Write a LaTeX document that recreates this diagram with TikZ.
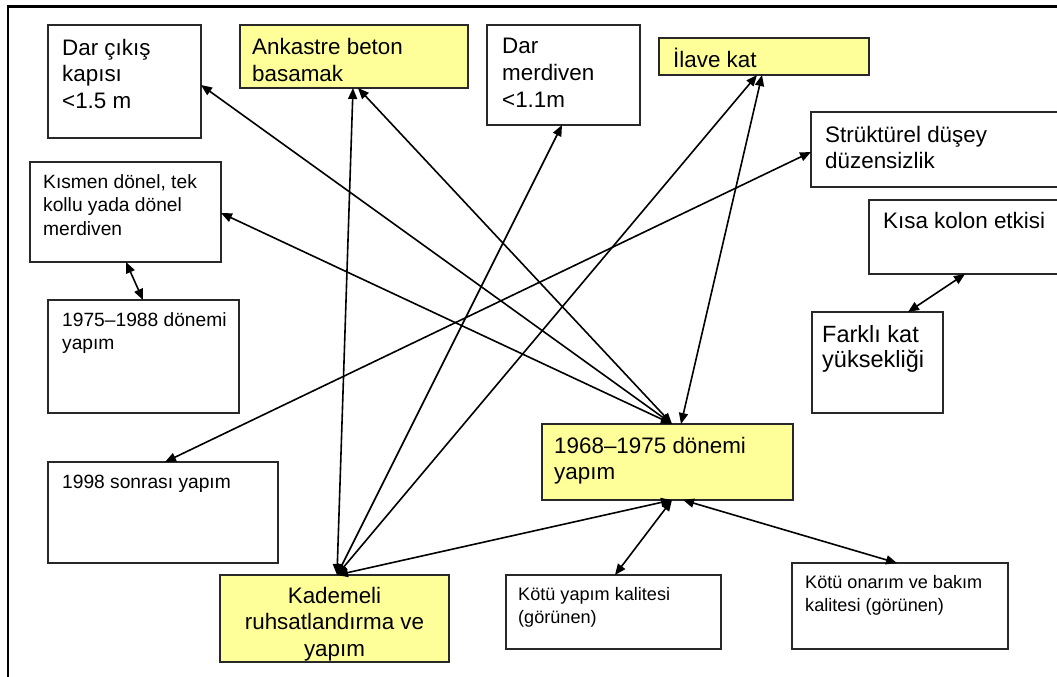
\documentclass[tikz,border=0pt]{standalone}
\usepackage{fontspec}
\setmainfont{Liberation Sans}
\usetikzlibrary{arrows.meta,calc}
\definecolor{hl}{RGB}{255,255,153}
\definecolor{edge}{RGB}{40,40,40}
\begin{document}
\begin{tikzpicture}[x=1pt,y=-1pt,
  box/.style={draw=edge, line width=1.1pt, rectangle, inner sep=0pt, outer sep=0pt, anchor=north west},
  ybox/.style={box, fill=hl},
  txt/.style={anchor=base west, align=left, inner sep=0pt},
  big/.style={font=\fontsize{22.4}{26.8}\selectfont},
  small/.style={font=\fontsize{19.2}{23.5}\selectfont},
  tiny/.style={font=\fontsize{18.1}{23.5}\selectfont},
  link/.style={line width=1.6pt, {Triangle[length=11pt,width=9pt]}-{Triangle[length=11pt,width=9pt]}}
]
\useasboundingbox (0,0) rectangle (1057,677);
\clip (0,0) rectangle (1057,677);
% frame
\draw[line width=2.6pt] (8,700) -- (8,6.5) -- (1080,6.5);

% boxes
\node[box, minimum width=153pt, minimum height=113pt] (n1) at (48,25) {};
\node[ybox, minimum width=228pt, minimum height=63pt] (n2) at (240,25) {};
\node[box, minimum width=153pt, minimum height=100pt] (n3) at (487,25) {};
\node[ybox, minimum width=210pt, minimum height=37pt] (n4) at (659,38) {};
\node[box, minimum width=260pt, minimum height=75pt] (n5) at (811,112) {};
\node[box, minimum width=191pt, minimum height=100pt] (n6) at (30,162) {};
\node[box, minimum width=200pt, minimum height=74pt] (n7) at (869,200) {};
\node[box, minimum width=191pt, minimum height=113pt] (n8) at (48,300) {};
\node[box, minimum width=131pt, minimum height=101pt] (n9) at (812,312) {};
\node[ybox, minimum width=251pt, minimum height=76pt] (n10) at (542,424) {};
\node[box, minimum width=230pt, minimum height=101pt] (n11) at (48,462) {};
\node[ybox, minimum width=229pt, minimum height=87pt] (n12) at (220,575) {};
\node[box, minimum width=215pt, minimum height=74pt] (n13) at (506,575) {};
\node[box, minimum width=216pt, minimum height=86pt] (n14) at (792,563) {};

% texts (anchor = baseline of the last line)
\node[txt, big] (t1) at (62,108.6) {Dar çıkış\\kapısı\\<1.5 m};
\node[txt, big] (t2) at (252,81.8) {Ankastre beton\\basamak};
\node[txt, big] (t3) at (502,107.6) {Dar\\merdiven\\<1.1m};
\node[txt, big] (t4) at (673,67) {İlave kat};
\node[txt, big] (t5) at (825,168.8) {Strüktürel düşey\\düzensizlik};
\node[txt, small] (t6) at (43,235) {Kısmen dönel, tek\\kollu yada dönel\\merdiven};
\node[txt, big] (t7) at (883,228) {Kısa kolon etkisi};
\node[txt, small] (t8) at (62,349.5) {1975–1988 dönemi\\yapım};
\node[txt, font=\fontsize{23.5}{25.5}\selectfont] (t9) at (822,367.5) {Farklı kat\\yüksekliği};
\node[txt, big] (t10) at (554,479.8) {1968–1975 dönemi\\yapım};
\node[txt, small] (t11) at (62,488) {1998 sonrası yapım};
\node[anchor=base, align=center, inner sep=0pt, big] (t12) at (334.5,656.6) {Kademeli\\ruhsatlandırma ve\\yapım};
\node[txt, tiny] (t13) at (518,623.5) {Kötü yapım kalitesi\\(görünen)};
\node[txt, tiny] (t14) at (805,611.5) {Kötü onarım ve bakım\\kalitesi (görünen)};

% connectors
\draw[link] ($(n10.north west)+(130,0)$) -- ($(n1.north east)+(0,60)$);
\draw[link] ($(n10.north west)+(130,0)$) -- ($(n6.north east)+(0,51)$);
\draw[link] ($(n10.north west)+(130,0)$) -- ($(n2.south west)+(118,0)$);
\draw[link] ($(n12.north west)+(117,0)$) -- ($(n2.south west)+(113,0)$);
\draw[link] ($(n12.north west)+(117,0)$) -- ($(n3.south west)+(75,0)$);
\draw[link] ($(n12.north west)+(117,0)$) -- ($(n4.south west)+(98,0)$);
\draw[link] ($(n10.north west)+(139,0)$) -- ($(n4.south west)+(103,0)$);
\draw[link] ($(n11.north west)+(117,0)$) -- ($(n5.north west)+(0,40)$);
\draw[link] ($(n12.north west)+(117,0)$) -- ($(n10.south west)+(130,0)$);
\draw[link] ($(n10.south west)+(130,0)$) -- ($(n13.north west)+(109,0)$);
\draw[link] ($(n10.south west)+(141,0)$) -- ($(n14.north west)+(105,0)$);
\draw[link] ($(n6.south west)+(96,0)$) -- ($(n8.north west)+(95,0)$);
\draw[link] ($(n7.south west)+(96,0)$) -- ($(n9.north west)+(96,0)$);
\end{tikzpicture}
\end{document}
